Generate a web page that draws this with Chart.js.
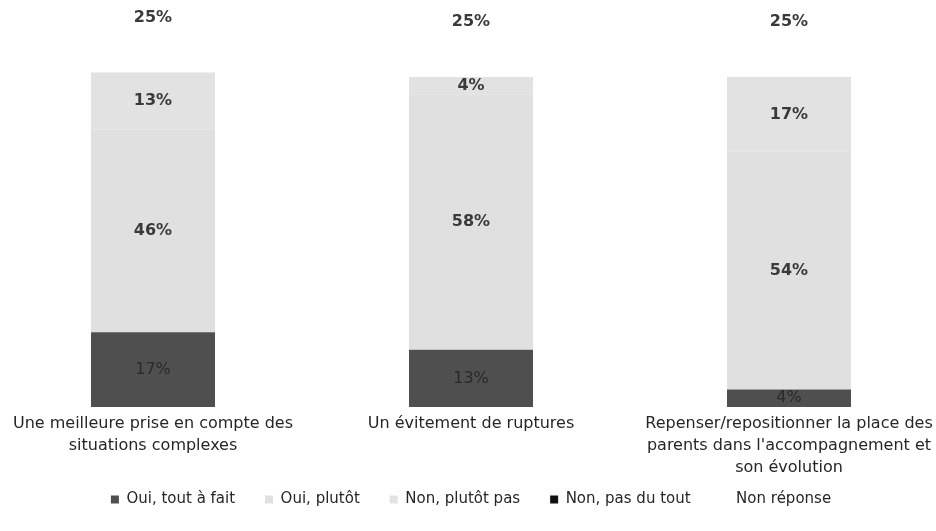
<!DOCTYPE html>
<html>
<head>
<meta charset="utf-8">
<script src="https://cdn.jsdelivr.net/npm/chart.js@4.4.1/dist/chart.umd.min.js"></script>
<style>
    html, body { margin: 0; padding: 0; background: #fff; overflow: hidden; }
    /* chart area in the scan runs slightly past both page edges */
    #wrap { position: absolute; left: -6px; top: 0; width: 954px; height: 531px; }
</style>
</head>
<body>
<div id="wrap"><canvas id="chart"></canvas></div>
<script>
const categories = [
    ['Une meilleure prise en compte des', 'situations complexes'],
    ['Un évitement de ruptures'],
    ['Repenser/repositionner la place des', "parents dans l'accompagnement et", 'son évolution'],
];
const seriesNames = ['Oui, tout à fait', 'Oui, plutôt', 'Non, plutôt pas', 'Non, pas du tout', 'Non réponse'];
const ouiToutAFait = [17, 13, 4];
const ouiPlutot = [46, 58, 54];
const nonPlutotPas = [13, 4, 17];
const nonPasDuTout = [0, 0, 0];
const nonReponse = [25, 25, 25];
// top of the scan cuts the stack off around here
const yMax = 92.5;

const seriesValues = [ouiToutAFait, ouiPlutot, nonPlutotPas, nonPasDuTout, nonReponse];
const seriesColors = ['#4f4f4f', '#e0e0e0', '#e2e2e2', '#111111', '#ffffff'];

const FONT = '"DejaVu Sans", "Liberation Sans", sans-serif';

// Percent labels in the middle of each segment
const segmentLabels = {
    id: 'segmentLabels',
    afterDatasetsDraw(chart) {
        const ctx = chart.ctx;
        ctx.save();
        ctx.textAlign = 'center';
        ctx.textBaseline = 'middle';
        chart.data.datasets.forEach((ds, di) => {
            const meta = chart.getDatasetMeta(di);
            if (meta.hidden) return;
            meta.data.forEach((bar, i) => {
                const v = ds.data[i];
                if (!v) return;
                const y = (bar.y + bar.base) / 2;
                ctx.font = (di === 0 ? 'normal 16px ' : 'bold 16px ') + FONT;
                ctx.fillStyle = di === 0 ? '#2a2a2a' : '#3a3a3a';
                ctx.fillText(v + '%', bar.x, y);
            });
        });
        ctx.restore();
    }
};

// Let the 3-line category label hang into the legend band without being clipped
const looseTickClip = {
    id: 'looseTickClip',
    afterLayout(chart) {
        chart.scales.x.bottom = chart.height;
    }
};

new Chart(document.getElementById('chart'), {
    type: 'bar',
    data: {
        labels: categories,
        datasets: seriesNames.map((name, i) => ({
            label: name,
            data: seriesValues[i],
            backgroundColor: seriesColors[i],
            borderWidth: 0,
            barPercentage: 0.39,
            categoryPercentage: 1,
        })),
    },
    options: {
        responsive: true,
        maintainAspectRatio: false,
        animation: false,
        layout: { padding: { top: 0, bottom: 14, left: 0, right: 0 } },
        scales: {
            x: {
                stacked: true,
                grid: { display: false, drawTicks: false },
                border: { display: false },
                ticks: {
                    color: '#262626',
                    font: { family: FONT, size: 16, lineHeight: 1.375 },
                    padding: 6,
                    maxRotation: 0,
                    autoSkip: false,
                },
                afterFit(scale) { scale.height = 55; },
            },
            y: {
                stacked: true,
                display: false,
                min: 0,
                max: yMax,
            },
        },
        plugins: {
            legend: {
                position: 'bottom',
                labels: {
                    boxWidth: 8,
                    boxHeight: 8,
                    padding: 30,
                    color: '#262626',
                    font: { family: FONT, size: 15 },
                },
            },
            tooltip: { enabled: false },
        },
    },
    plugins: [segmentLabels, looseTickClip],
});
</script>
</body>
</html>
